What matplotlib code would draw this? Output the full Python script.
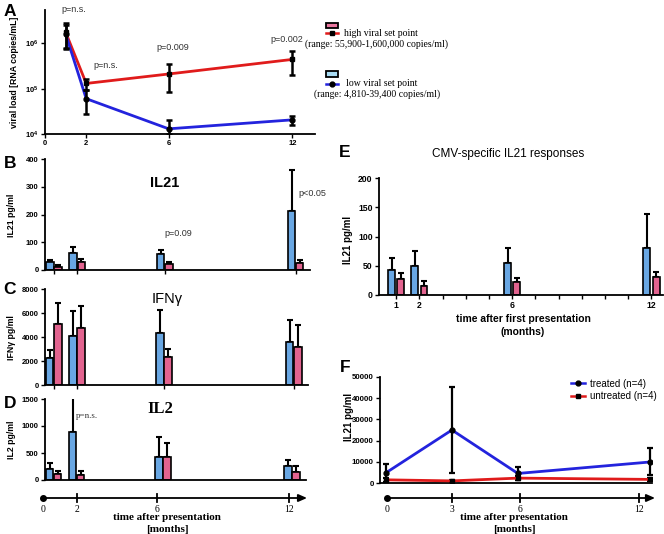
import matplotlib
matplotlib.use("Agg")
import matplotlib.pyplot as plt
from matplotlib.patches import Rectangle
from matplotlib.lines import Line2D

# ---------------- data ----------------
# Panel A: viral load (copies/mL)
a_time = [1, 2, 6, 12]
a_xticks = [0, 2, 6, 12]
a_high = [1.75e6, 1.3e5, 2.1e5, 4.4e5]
a_high_lo = [7.4e5, 9.1e4, 8.5e4, 1.95e5]
a_high_hi = [2.75e6, 1.66e5, 3.4e5, 6.6e5]
a_low = [1.6e6, 6.0e4, 1.3e4, 2.05e4]
a_low_lo = [8.0e5, 2.75e4, 1.0e4, 1.6e4]
a_low_hi = [2.5e6, 9.1e4, 2.0e4, 2.5e4]
a_pvals = ["p=n.s.", "p=n.s.", "p=0.009", "p=0.002"]

# Panels B-D: groups (time points)
groups = ["1", "2", "6", "12"]
b_low = [28, 61, 56, 213]
b_low_err = [9, 22, 16, 147]
b_high = [11, 29, 22, 25]
b_high_err = [7, 11, 6, 12]

c_low = [2250, 4080, 4330, 3580]
c_low_err = [650, 2050, 1900, 1840]
c_high = [5080, 4750, 2330, 3170]
c_high_err = [1750, 1830, 670, 1830]

d_low = [204, 889, 426, 259]
d_low_err = [111, 700, 370, 111]
d_high = [111, 93, 426, 148]
d_high_err = [56, 74, 259, 111]

timeline_d = ["0", "2", "6", "12"]

# Panel E
e_time = [1, 2, 6, 12]
e_low = [43, 49, 54, 81]
e_low_err = [20, 27, 26, 57]
e_high = [28, 16, 23, 30]
e_high_err = [10, 8, 6, 10]

# Panel F
f_time = [0, 3, 6, 12]
f_treated = [4800, 25000, 4500, 9900]
f_treated_lo = [4300, 20300, 3100, 6300]
f_treated_hi = [4200, 20500, 3100, 6700]
f_untreated = [1500, 1000, 2300, 1700]
f_untreated_err = [800, 500, 900, 600]
f_labels = ["treated (n=4)", "untreated (n=4)"]
timeline_f = ["0", "3", "6", "12"]

# ---------------- style ----------------
W, H = 664, 534
SANS = "Liberation Sans"
SERIF = "Liberation Serif"
plt.rcParams["font.family"] = [SANS, "DejaVu Sans"]
plt.rcParams["mathtext.fontset"] = "custom"
plt.rcParams["mathtext.bf"] = "Liberation Sans:bold"
plt.rcParams["mathtext.rm"] = "Liberation Sans"

BLUE_BAR = "#69a7e3"
PINK_BAR = "#e2638f"
RED_LINE = "#e01b1b"
BLUE_LINE = "#2323dd"
LW = 1.3

fig = plt.figure(figsize=(W / 100, H / 100), dpi=100)


def ax_at(l, t, r, b):
    return fig.add_axes([l / W, 1 - b / H, (r - l) / W, (b - t) / H])


def ftext(x, y, s, **kw):
    kw.setdefault("ha", "center")
    kw.setdefault("va", "center")
    return fig.text(x / W, 1 - y / H, s, **kw)


def style_axis(ax, tick_size=5.5):
    for s in ["top", "right"]:
        ax.spines[s].set_visible(False)
    for s in ["left", "bottom"]:
        ax.spines[s].set_linewidth(LW)
    ax.tick_params(width=1.0, length=3, labelsize=tick_size, pad=1.5)
    for lab in ax.get_yticklabels() + ax.get_xticklabels():
        lab.set_fontweight("bold")


# ---------------- Panel A ----------------
axA = ax_at(45, 10, 315, 134)
axA.set_yscale("log")
axA.plot(a_time, a_high, color=RED_LINE, lw=2)
axA.plot(a_time, a_low, color=BLUE_LINE, lw=2)
for vals, lo, hi, mk in [(a_high, a_high_lo, a_high_hi, "s"), (a_low, a_low_lo, a_low_hi, "o")]:
    yerr = [[v - l for v, l in zip(vals, lo)], [h - v for v, h in zip(vals, hi)]]
    axA.errorbar(a_time, vals, yerr=yerr, fmt=mk, color="black", ms=3.5,
                 ecolor="black", elinewidth=1.8, capsize=2.5, capthick=1.8)
axA.set_xlim(0, 13.1)
axA.set_ylim(1e4, 5.4e6)
axA.set_xticks(a_xticks)
axA.set_xticklabels([str(t) for t in a_xticks])
axA.set_yticks([1e4, 1e5, 1e6])
axA.set_yticklabels([r"$\mathbf{10^4}$", r"$\mathbf{10^5}$", r"$\mathbf{10^6}$"])
axA.yaxis.set_minor_locator(matplotlib.ticker.NullLocator())
style_axis(axA)

for (x, y), s in zip([(74, 10), (106, 66), (173, 47), (287, 39)], a_pvals):
    ftext(x, y, s, fontsize=6.5, color="#333333")

ftext(15, 72, "viral load [RNA copies/mL]", rotation=90, fontsize=6.3, fontweight="bold")


def fig_rect(l, t, r, b, fc):
    fig.patches.append(Rectangle((l / W, 1 - b / H), (r - l) / W, (b - t) / H,
                                 transform=fig.transFigure, facecolor=fc,
                                 edgecolor="black", lw=1.3))


def fig_line(x0, x1, y, color, marker):
    fig.lines.append(Line2D([x0 / W, x1 / W], [1 - y / H, 1 - y / H], color=color, lw=1.8,
                            transform=fig.transFigure))
    fig.lines.append(Line2D([(x0 + x1) / 2 / W], [1 - y / H], color="black", marker=marker,
                            ms=3.5, transform=fig.transFigure))


# A legend
fig_rect(326, 23, 338, 28, "#ea77a0")
fig_line(326, 338, 33, RED_LINE, "s")
ftext(344, 34, "high viral set point", ha="left", fontsize=7, family=SERIF)
ftext(376, 44, "(range: 55,900-1,600,000 copies/ml)", fontsize=7, family=SERIF)
fig_rect(326, 71, 338, 77, "#a9dcf4")
fig_line(326, 338, 84, BLUE_LINE, "o")
ftext(346, 84, "low viral set point", ha="left", fontsize=7, family=SERIF)
ftext(377, 94, "(range: 4,810-39,400 copies/ml)", fontsize=7, family=SERIF)

# ---------------- Panels B, C, D ----------------
grp_pos = [0.44, 1.58, 5.88, 12.3]
bw = 0.36
off = 0.2


def bar_panel(ax, low, low_err, high, high_err, ymax, yticks, ticks_on=True):
    xl = [p - off for p in grp_pos]
    xh = [p + off for p in grp_pos]
    ax.bar(xl, low, width=bw, color=BLUE_BAR, edgecolor="black", lw=1.2, zorder=2)
    ax.bar(xh, high, width=bw, color=PINK_BAR, edgecolor="black", lw=1.2, zorder=2)
    ax.errorbar(xl, low, yerr=[[0] * 4, low_err], fmt="none", ecolor="black",
                elinewidth=1.5, capsize=2.2, capthick=1.5, zorder=1)
    ax.errorbar(xh, high, yerr=[[0] * 4, high_err], fmt="none", ecolor="black",
                elinewidth=1.5, capsize=2.2, capthick=1.5, zorder=1)
    ax.set_xlim(0, 13)
    ax.set_ylim(0, ymax)
    ax.set_yticks(yticks)
    if ticks_on:
        ax.set_xticks(grp_pos)
        ax.set_xticklabels([""] * 4)
    else:
        ax.set_xticks([])
    style_axis(ax)


axB = ax_at(45, 159, 310, 270)
bar_panel(axB, b_low, b_low_err, b_high, b_high_err, 400, [0, 100, 200, 300, 400])
axC = ax_at(45, 289, 308, 385)
bar_panel(axC, c_low, c_low_err, c_high, c_high_err, 8000, [0, 2000, 4000, 6000, 8000])
axD = ax_at(45, 399, 306, 480)
bar_panel(axD, d_low, d_low_err, d_high, d_high_err, 1500, [0, 500, 1000, 1500], ticks_on=False)

ftext(165, 183, "IL21", fontsize=10.5, fontweight="bold")
ftext(312, 193, "p<0.05", fontsize=6.5, color="#333333")
ftext(178, 233, "p=0.09", fontsize=6.5, color="#333333")
ftext(167, 299, "IFN\u03b3", fontsize=10.5)
ftext(160, 409, "IL2", fontsize=12, fontweight="bold", family=SERIF)
ftext(87, 416, "p=n.s.", fontsize=6.5, color="#333333", family=SERIF)

ftext(12, 215, "IL21 pg/ml", rotation=90, fontsize=6.3, fontweight="bold")
ftext(12, 338, "IFN\u03b3 pg/ml", rotation=90, fontsize=6.3, fontweight="bold")
ftext(12, 440, "IL2 pg/ml", rotation=90, fontsize=6.3, fontweight="bold")


def timeline(l, r, y, frac_pos, labels, center, title_y):
    ax = ax_at(l, y - 8, r + 2, y + 8)
    ax.set_xlim(0, (r + 2 - l) / (r - l))
    ax.set_ylim(-1, 1)
    ax.axis("off")
    ax.annotate("", xy=(1.0, 0), xytext=(0, 0),
                arrowprops=dict(arrowstyle="-|>,head_length=0.5,head_width=0.22",
                                lw=1.3, color="black", shrinkA=0, shrinkB=0))
    ax.plot([0], [0], "o", color="black", ms=4, clip_on=False)
    for p in frac_pos[1:]:
        ax.plot([p, p], [-0.45, 0.45], color="black", lw=1.3)
    for p, s in zip(frac_pos, labels):
        ftext(l + p * (r - l), y + 11, s, fontsize=7, family=SERIF)
    ftext(center, title_y, "time after presentation", fontsize=8, fontweight="bold", family=SERIF)
    ftext(center, title_y + 11, "[months]", fontsize=8, fontweight="bold", family=SERIF)


timeline(43, 307, 498, [0, 0.129, 0.432, 0.932], timeline_d, 167, 518)

# ---------------- Panel E ----------------
axE = ax_at(379, 178, 663, 295)
xl = [t - 0.2 for t in e_time]
xh = [t + 0.2 for t in e_time]
axE.bar(xl, e_low, width=0.3, color=BLUE_BAR, edgecolor="black", lw=1.2, zorder=2)
axE.bar(xh, e_high, width=0.3, color=PINK_BAR, edgecolor="black", lw=1.2, zorder=2)
axE.errorbar(xl, e_low, yerr=[[0] * 4, e_low_err], fmt="none", ecolor="black",
             elinewidth=1.5, capsize=2.2, capthick=1.5, zorder=1)
axE.errorbar(xh, e_high, yerr=[[0] * 4, e_high_err], fmt="none", ecolor="black",
             elinewidth=1.5, capsize=2.2, capthick=1.5, zorder=1)
axE.set_xlim(0.26, 12.5)
axE.set_ylim(0, 200)
axE.set_yticks([0, 50, 100, 150, 200])
axE.set_xticks(e_time)
axE.set_xticklabels([str(t) for t in e_time])
axE.set_xticks(range(3, 12), minor=True)
style_axis(axE, tick_size=6.2)
axE.tick_params(axis="x", which="minor", length=3, width=1.0)
ftext(508, 154, "CMV-specific IL21 responses", fontsize=8.5)
ftext(348, 240, "IL21 pg/ml", rotation=90, fontsize=7, fontweight="bold")
ftext(523, 319, "time after first presentation", fontsize=7.5, fontweight="bold")
ftext(523, 332, "(months)", fontsize=7.5, fontweight="bold")

# ---------------- Panel F ----------------
axF = ax_at(380, 377, 652, 483)
axF.plot(f_time, f_treated, color=BLUE_LINE, lw=2, marker="o", mfc="black", mec="black",
         ms=3.5, zorder=3)
axF.plot(f_time, f_untreated, color=RED_LINE, lw=2, marker="s", mfc="black", mec="black",
         ms=3.5, zorder=3)
axF.errorbar(f_time, f_treated, yerr=[f_treated_lo, f_treated_hi], fmt="none", ecolor="black",
             elinewidth=1.6, capsize=2.5, capthick=1.6, zorder=2)
axF.errorbar(f_time, f_untreated, yerr=[f_untreated_err, f_untreated_err], fmt="none",
             ecolor="black", elinewidth=1.6, capsize=2.5, capthick=1.6, zorder=2)
axF.set_xlim(-0.27, 12.1)
axF.set_ylim(0, 50000)
axF.set_yticks([0, 10000, 20000, 30000, 40000, 50000])
axF.set_xticks([])
style_axis(axF, tick_size=5.7)

# F legend
fig_line(571, 585, 383, BLUE_LINE, "o")
ftext(590, 384, f_labels[0], ha="left", fontsize=7)
fig_line(571, 585, 396, RED_LINE, "s")
ftext(590, 396, f_labels[1], ha="left", fontsize=7)

ftext(349, 417, "IL21 pg/ml", rotation=90, fontsize=7, fontweight="bold")

timeline(387, 655, 498, [0, 0.243, 0.496, 0.940], timeline_f, 514, 518)

# ---------------- panel letters ----------------
for x, y, s in [(10, 11, "A"), (10, 164, "B"), (10, 290, "C"), (10, 403, "D"),
                (345, 153, "E"), (345, 368, "F")]:
    ftext(x, y, s, fontsize=12.5, fontweight="bold")

fig.savefig("out.png", dpi=100)
